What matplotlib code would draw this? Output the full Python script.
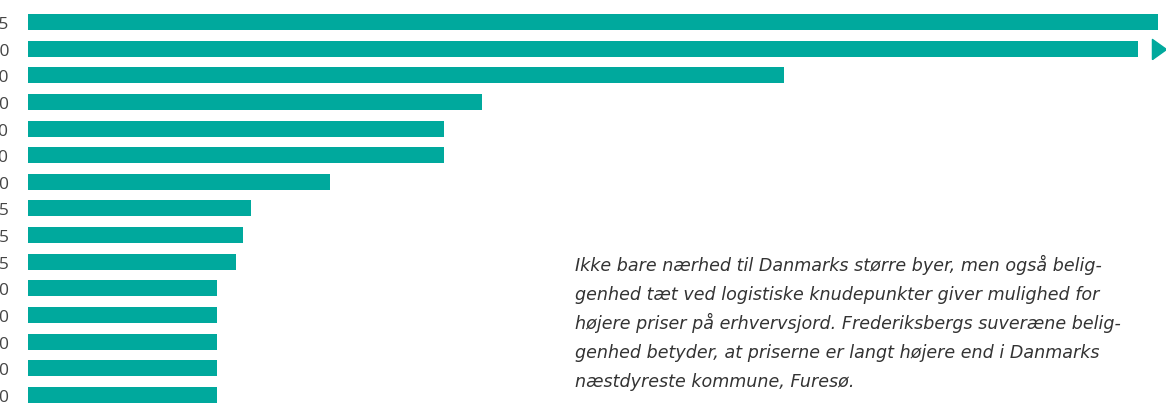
import matplotlib.pyplot as plt
from matplotlib.ticker import FixedLocator

# values (kr/m2); the second bar is cut off with an arrow
values = [1495, 2500, 1000, 600, 550, 550, 400, 295, 285, 275, 250, 250, 250, 250, 250]
labels = ["1.495", "2.500", "1.000", "600", "550", "550", "400", "295", "285", "275",
          "250", "250", "250", "250", "250"]
truncated = [False, True] + [False] * 13
CAP = 1468  # display length of a truncated bar

note_lines = [
    "Ikke bare nærhed til Danmarks større byer, men også belig-",
    "genhed tæt ved logistiske knudepunkter giver mulighed for",
    "højere priser på erhvervsjord. Frederiksbergs suveræne belig-",
    "genhed betyder, at priserne er langt højere end i Danmarks",
    "næstdyreste kommune, Furesø.",
]

BAR = "#00a99d"
W, H = 1166, 406
fig = plt.figure(figsize=(W / 100, H / 100), dpi=100)
ax = fig.add_axes([28 / W, 0, 1 - 28 / W, 1])

y = list(range(len(values)))
shown = [CAP if t else v for v, t in zip(values, truncated)]
ax.barh(y, shown, height=0.6, color=BAR)

# arrow for truncated bars
tri = [(-0.7, -1), (0.7, 0), (-0.7, 1), (-0.7, -1)]
for yi, t in zip(y, truncated):
    if t:
        ax.plot(CAP + 28, yi, marker=tri, markersize=14.5, color=BAR,
                linestyle="none", clip_on=False)

ax.set_xlim(0, (W - 28) / 0.756)
ax.set_ylim((H - 23) / 26.64, -23 / 26.64)

ax.yaxis.set_major_locator(FixedLocator(y))
ax.set_yticklabels(labels, fontsize=12.5, color="#444444", family="Open Sans")
ax.tick_params(axis="y", length=0, pad=13.5)
ax.set_xticks([])
for s in ax.spines.values():
    s.set_visible(False)

for i, line in enumerate(note_lines):
    fig.text(575 / W, 1 - (271 + 29 * i) / H, line, ha="left", va="baseline",
             fontsize=12.6, style="italic", family="DejaVu Sans", color="#333333")

fig.savefig("out.png", dpi=100)
